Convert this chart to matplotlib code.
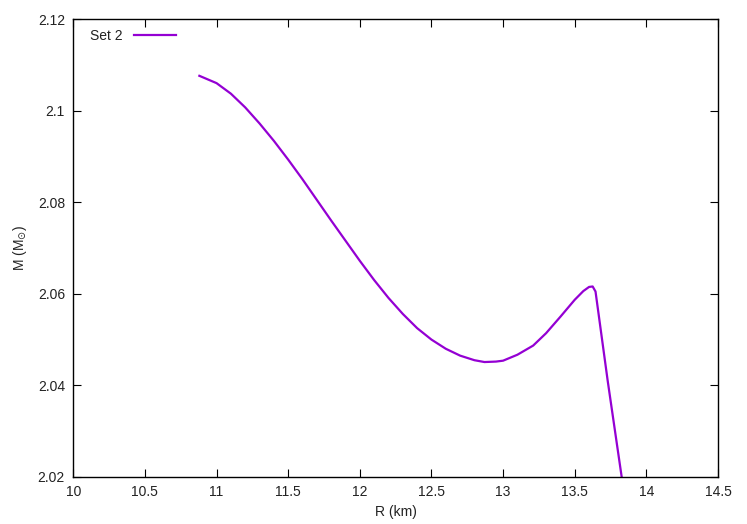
import matplotlib
matplotlib.use("Agg")
import matplotlib.pyplot as plt

R = [10.88, 11.00, 11.10, 11.20, 11.30, 11.40, 11.50, 11.60, 11.70, 11.80,
     11.90, 12.00, 12.10, 12.20, 12.30, 12.40, 12.50, 12.60, 12.70, 12.80,
     12.87, 12.95, 13.00, 13.10, 13.21, 13.30, 13.40, 13.50, 13.56, 13.60,
     13.625, 13.645, 13.73, 13.83]
M = [2.1076, 2.1060, 2.1037, 2.1007, 2.0972, 2.0934, 2.0893, 2.0850, 2.0805, 2.0760,
     2.0716, 2.0672, 2.0630, 2.0591, 2.0556, 2.0525, 2.0500, 2.0480, 2.0465, 2.0455,
     2.0451, 2.0452, 2.0454, 2.0467, 2.0487, 2.0514, 2.0550, 2.0587, 2.0606, 2.0615,
     2.0616, 2.0605, 2.0410, 2.0195]
xticks = [10, 10.5, 11, 11.5, 12, 12.5, 13, 13.5, 14, 14.5]
yticks = [2.02, 2.04, 2.06, 2.08, 2.1, 2.12]
xtick_labels = ["10", "10.5", "11", "11.5", "12", "12.5", "13", "13.5", "14", "14.5"]
ytick_labels = ["2.02", "2.04", "2.06", "2.08", "2.1", "2.12"]

plt.rcParams['font.family'] = ['Liberation Sans', 'DejaVu Sans']
fig = plt.figure(figsize=(7.47, 5.24), dpi=100)
ax = fig.add_axes([0.0981, 0.0897, 0.8631, 0.874])
ax.plot(R, M, color='#9400D3', lw=1.6, label='Set 2', solid_joinstyle='round')
ax.set_xlim(10, 14.5)
ax.set_ylim(2.02, 2.12)
ax.set_xticks(xticks)
ax.set_xticklabels(xtick_labels)
ax.set_yticks(yticks)
ax.set_yticklabels(ytick_labels)
ax.tick_params(direction='in', length=6, width=0.8, top=True, right=True,
               labelsize=10, pad=6, labelcolor='#222222')
for s in ax.spines.values():
    s.set_linewidth(1.0)
ax.set_xlabel('R (km)', fontsize=10, labelpad=4, color='#222222')
ax.set_ylabel(r'M (M$_{\odot}$)', fontsize=10, labelpad=6, color='#222222')
leg = ax.legend(loc='upper left', frameon=False, fontsize=10, markerfirst=False,
                handlelength=3.0, borderaxespad=0.0, handletextpad=0.8,
                bbox_to_anchor=(0.018, 0.99))
for t in leg.get_texts():
    t.set_color('#222222')
fig.savefig('out.png', dpi=100)
